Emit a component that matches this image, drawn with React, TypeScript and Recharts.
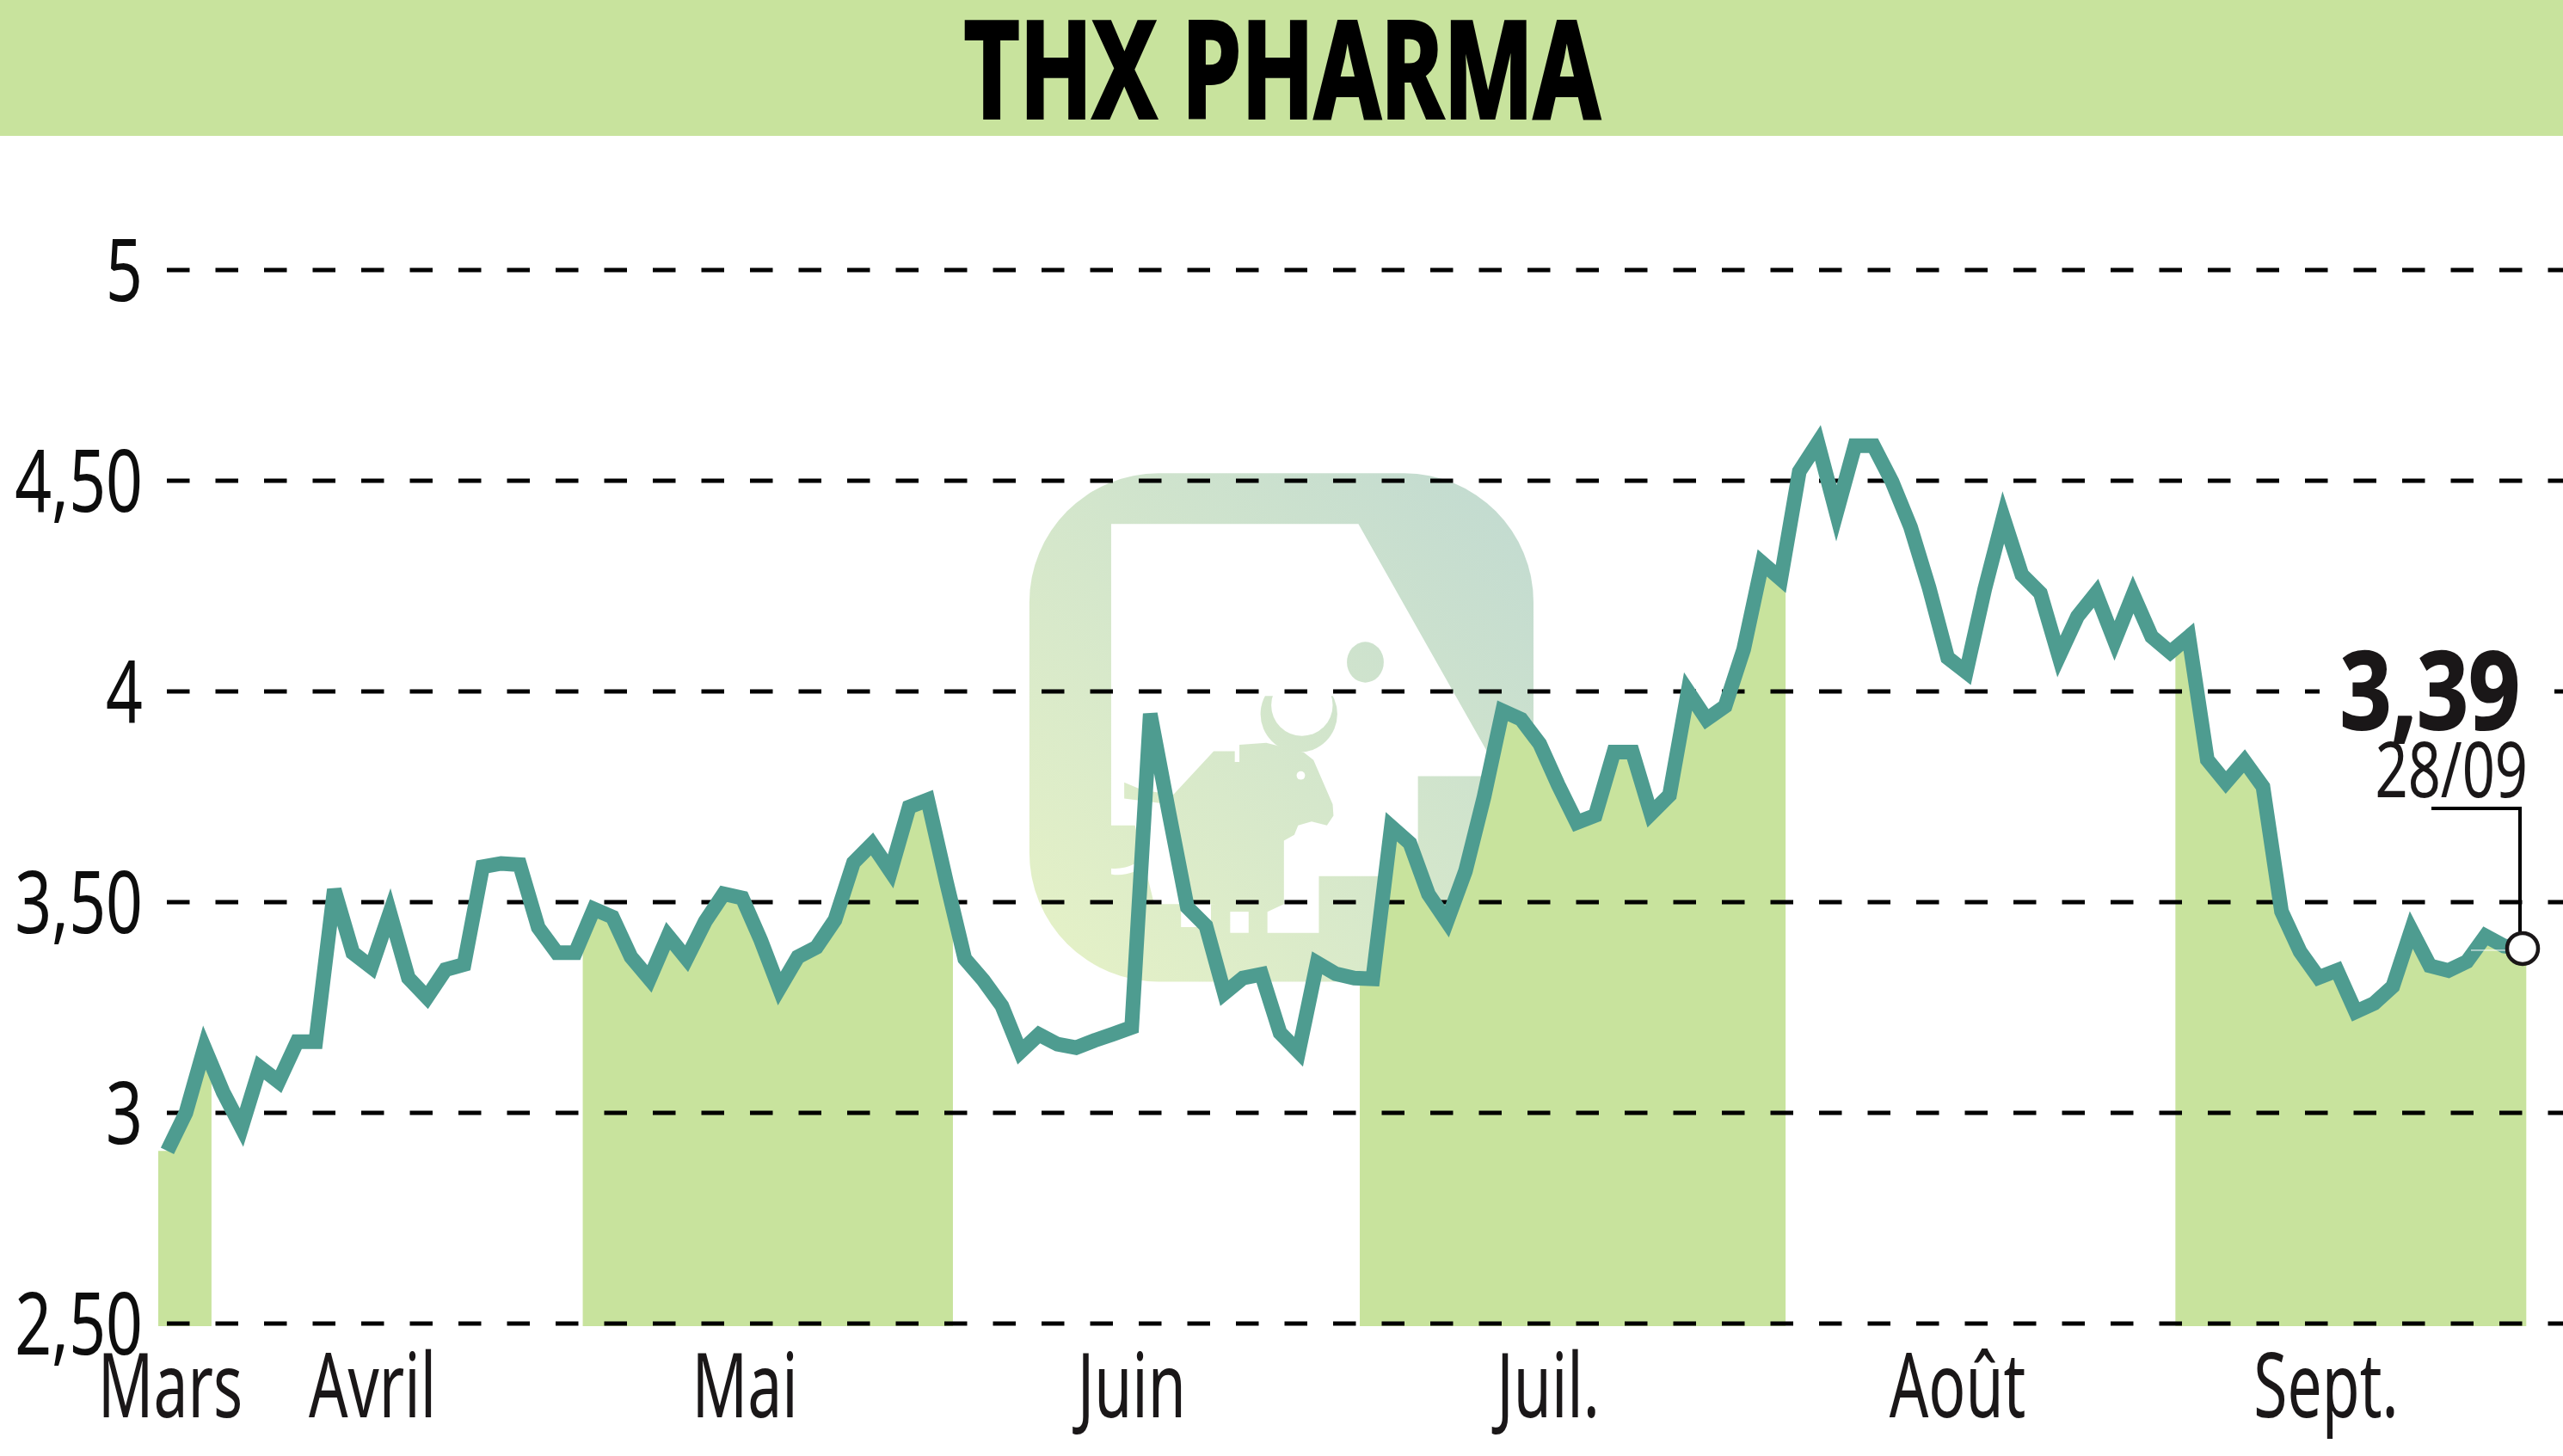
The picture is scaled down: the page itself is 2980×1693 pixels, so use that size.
/**
 * THX PHARMA share price chart, built with Recharts
 */

import React from 'react';
import {
  ComposedChart,
  Area,
  Line,
  XAxis,
  YAxis,
  ReferenceLine,
  ReferenceDot,
} from 'recharts';

const TITLE = 'THX PHARMA';
const LAST_VALUE = '3,39';
const LAST_DATE = '28/09';

const yTicks = [2.5, 3, 3.5, 4, 4.5, 5];
const monthTicks = [0.16, 11.06, 31.14, 52, 74.46, 96.53, 116.4];
const monthLabels = ['Mars', 'Avril', 'Mai', 'Juin', 'Juil.', 'Août', 'Sept.'];

const prices = [
  2.91, 3.0, 3.155, 3.05, 2.965, 3.108, 3.074, 3.169, 3.169, 3.53,
  3.38, 3.346, 3.475, 3.32, 3.274, 3.34, 3.352, 3.584, 3.592, 3.589,
  3.44, 3.38, 3.38, 3.484, 3.465, 3.37, 3.318, 3.42, 3.366, 3.454,
  3.52, 3.51, 3.41, 3.295, 3.37, 3.393, 3.458, 3.594, 3.638, 3.573,
  3.726, 3.743, 3.55, 3.366, 3.315, 3.254, 3.145, 3.186, 3.163, 3.155,
  3.172, 3.187, 3.203, 3.947, 3.714, 3.488, 3.444, 3.284, 3.32, 3.329,
  3.19, 3.145, 3.356, 3.33, 3.32, 3.318, 3.679, 3.64, 3.519, 3.454,
  3.574, 3.75, 3.954, 3.934, 3.876, 3.778, 3.689, 3.706, 3.856, 3.856,
  3.71, 3.754, 4.0, 3.934, 3.965, 4.1, 4.305, 4.267, 4.522, 4.59,
  4.423, 4.583, 4.583, 4.498, 4.39, 4.246, 4.08, 4.046, 4.243, 4.413,
  4.277, 4.233, 4.083, 4.178, 4.233, 4.12, 4.23, 4.13, 4.093, 4.13,
  3.838, 3.784, 3.835, 3.774, 3.478, 3.383, 3.321, 3.338, 3.24, 3.26,
  3.3, 3.434, 3.349, 3.338, 3.359, 3.42, 3.396, 3.39,
];

// alternate months carry a green fill: where each starts and ends, and its height there
const bandStarts = [-0.49, 22.4, 64.3, 108.28];
const bandEnds = [2.38, 42.36, 87.26, 127.2];
const bandStartValues = [2.91, 3.42, 3.32, 4.1];
const bandEndValues = [3.11, 3.483, 4.28, 3.39];

interface Row {
  x: number;
  price?: number;
  band?: number;
}

const isInBand = (x: number) => bandStarts.some((start, i) => x >= start && x <= bandEnds[i]);

const rows: Row[] = [
  ...prices.map((price, x) => ({ x, price, band: isInBand(x) ? price : undefined })),
  ...bandStarts.map((x, i) => ({ x, band: bandStartValues[i] })),
  ...bandEnds.map((x, i) => ({ x, band: bandEndValues[i] })),
].sort((a, b) => a.x - b.x);

const lastIndex = prices.length - 1;

const FONT = '"Noto Sans", sans-serif';
const GREEN = '#c8e39d';
const TEAL = '#4e9c90';
const INK = '#1a1718';

const formatPrice = (v: number) => (Number.isInteger(v) ? String(v) : v.toFixed(2).replace('.', ','));

const PriceTick = ({ y, payload }: any) => (
  <text
    transform={`translate(166 ${y + 36}) scale(0.75 1)`}
    textAnchor="end"
    fontFamily={FONT}
    fontSize={100}
    fill="#0d0d0d"
  >
    {formatPrice(payload.value)}
  </text>
);

const MonthTick = ({ x, payload }: any) => (
  <text
    transform={`translate(${x} 1648) scale(0.68 1)`}
    textAnchor="middle"
    fontFamily={FONT}
    fontSize={105}
    fill={INK}
  >
    {monthLabels[monthTicks.indexOf(payload.value)]}
  </text>
);

// last quote: white patch behind the value, then value, date, leader and ring
const LastQuote = ({ cx, cy }: any) => (
  <g>
    <rect x={cx - 236} y={cy - 323} width={273} height={50} fill="#fff" />
    <text
      transform={`translate(${cx - 3} ${cy - 255}) scale(0.83 1)`}
      textAnchor="end"
      fontFamily={FONT}
      fontWeight={700}
      fontSize={126}
      fill={INK}
      stroke={INK}
      strokeWidth={2}
    >
      {LAST_VALUE}
    </text>
    <text
      transform={`translate(${cx + 6} ${cy - 176}) scale(0.75 1)`}
      textAnchor="end"
      fontFamily={FONT}
      fontSize={89}
      fill={INK}
    >
      {LAST_DATE}
    </text>
    <line x1={cx - 60} y1={cy + 2} x2={cx - 14} y2={cy + 2} stroke="#fff" strokeWidth={1} />
    <path d={`M${cx - 106} ${cy - 163} H${cx - 3} V${cy - 18}`} fill="none" stroke="#000" strokeWidth={4} />
    <circle cx={cx} cy={cy} r={18} fill="#fff" stroke={INK} strokeWidth={4.5} />
  </g>
);

// pale logo and title strip sitting behind the plot
const Backdrop = () => (
  <svg width={2980} height={1693} style={{ position: 'absolute', left: 0, top: 0 }}>
    <rect x={0} y={0} width={2980} height={158} fill={GREEN} />
    <text
      transform="translate(1121 137) scale(0.709 1)"
      fontFamily={FONT}
      fontWeight={700}
      fontSize={157}
      fill="#000"
      stroke="#000"
      strokeWidth={4}
    >
      {TITLE}
    </text>
    <g transform="translate(1150 520) scale(0.4464)">
      <defs>
        <linearGradient id="logoFill" gradientUnits="userSpaceOnUse" x1={105} y1={1392} x2={1418} y2={68}>
          <stop offset="0" stopColor="#e6f2c6" />
          <stop offset="1" stopColor="#c1dad1" />
        </linearGradient>
      </defs>
      <rect x={105} y={68} width={1313} height={1324} rx={336} fill="url(#logoFill)" />
      <path
        d="M318 200 H962 L1296 791 L1290 857 H1117 V1117 H859 V1265 H725 V1190 H578 V1250 H500 V1190 H430 L380 985 H318 Z"
        fill="#fff"
      />
      <rect x={628} y={1210} width={48} height={55} fill="#fff" />
      <path d="M318 1097 Q350 1100 380 1085 V1105 Q345 1118 318 1112 Z" fill="#fff" />
      <path
        d="M352 873 L400 893 L480 905 L585 792 H640 V820 H652 V775 L722 770 L820 795 L845 815 L895 930 L897 960 L880 985 L840 975 L805 985 L795 1010 L768 1025 V1190 L725 1210 L578 1190 H500 L470 930 L352 915 Z"
        fill="url(#logoFill)"
      />
      <circle cx={807} cy={695} r={100} fill="url(#logoFill)" />
      <circle cx={815} cy={672} r={80} fill="#fff" />
      <rect x={690} y={560} width={235} height={88} fill="#fff" />
      <circle cx={812} cy={855} r={11} fill="#fff" />
      <ellipse cx={980} cy={560} rx={48} ry={53} fill="url(#logoFill)" />
    </g>
  </svg>
);

export default function App() {
  return (
    <div style={{ position: 'absolute', left: 0, top: 0, width: 2980, height: 1693, background: '#fff', overflow: 'hidden' }}>
      <Backdrop />
      <div style={{ position: 'absolute', left: 0, top: 0 }}>
        <ComposedChart
          width={2980}
          height={1693}
          data={rows}
          margin={{ top: 314, right: 0, bottom: 0, left: 0 }}
        >
          <XAxis
            dataKey="x"
            type="number"
            domain={[-0.49, 129.18]}
            allowDataOverflow
            ticks={monthTicks}
            interval={0}
            height={151}
            axisLine={false}
            tickLine={false}
            tick={<MonthTick />}
          />
          <YAxis
            type="number"
            domain={[2.494, 5]}
            allowDataOverflow
            ticks={yTicks}
            interval={0}
            width={184}
            axisLine={false}
            tickLine={false}
            tick={<PriceTick />}
          />
          <Area
            dataKey="band"
            type="linear"
            fill={GREEN}
            fillOpacity={1}
            stroke="none"
            connectNulls={false}
            dot={false}
            activeDot={false}
            isAnimationActive={false}
          />
          {yTicks.map((tick) => (
            <ReferenceLine
              key={tick}
              y={tick}
              stroke="#000"
              strokeWidth={5}
              strokeDasharray="26.5 30"
              strokeDashoffset={46.5}
            />
          ))}
          <Line
            dataKey="price"
            type="linear"
            stroke={TEAL}
            strokeWidth={17}
            strokeLinejoin="miter"
            connectNulls
            dot={false}
            activeDot={false}
            isAnimationActive={false}
          />
          <ReferenceDot x={lastIndex} y={prices[lastIndex]} shape={<LastQuote />} />
        </ComposedChart>
      </div>
    </div>
  );
}
